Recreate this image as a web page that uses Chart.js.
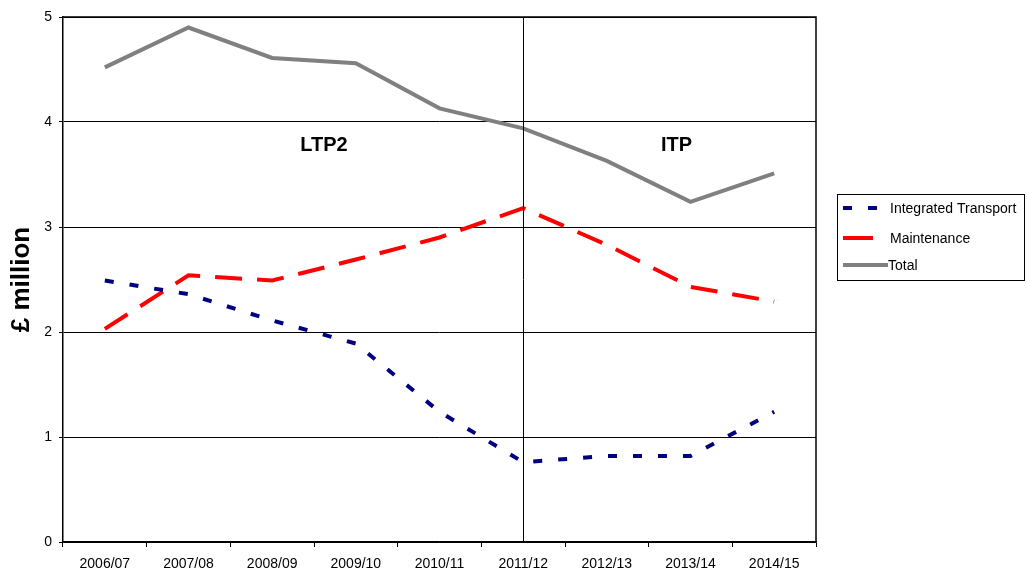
<!DOCTYPE html>
<html><head><meta charset="utf-8">
<script src="https://cdn.jsdelivr.net/npm/chart.js@4"></script>
<style>html,body{margin:0;padding:0;background:#fff}#wrap{width:1027px;height:571px;position:relative}</style>
</head><body><div id="wrap"><canvas id="c" width="1027" height="571"></canvas></div>
<script>
const categories = ["2006/07","2007/08","2008/09","2009/10","2010/11","2011/12","2012/13","2013/14","2014/15"];
const integratedTransport = [2.49,2.36,2.11,1.89,1.24,0.76,0.82,0.82,1.24];
const maintenance = [2.03,2.54,2.49,2.69,2.90,3.18,2.83,2.43,2.29];
const total = [4.52,4.90,4.61,4.56,4.13,3.94,3.63,3.24,3.51];
const yTicks = [0,1,2,3,4,5];
const periodLabels = ["LTP2", "ITP"];
const dividerIndex = 5;

const FONT = "'Liberation Sans', Arial, sans-serif";

const extras = {
  id:'extras',
  afterDatasetsDraw(chart){
    const {ctx, chartArea:a, scales:{x,y}} = chart;
    ctx.save();
    // border box top/right
    ctx.strokeStyle='#000'; ctx.lineWidth=1.5;
    ctx.beginPath();
    ctx.moveTo(a.left, a.top); ctx.lineTo(a.right, a.top); ctx.lineTo(a.right, a.bottom);
    ctx.stroke();
    // vertical divider
    const xd = Math.round(x.getPixelForValue(dividerIndex))+0.5;
    ctx.strokeStyle='#000'; ctx.lineWidth=1;
    ctx.beginPath(); ctx.moveTo(xd, a.top); ctx.lineTo(xd, a.bottom); ctx.stroke();
    // period labels
    ctx.fillStyle='#000'; ctx.font='bold 20px '+FONT; ctx.textAlign='center'; ctx.textBaseline='middle';
    const ly = y.getPixelForValue(3.78);
    ctx.fillText(periodLabels[0], (x.getPixelForValue(2)+x.getPixelForValue(3))/2 + 10, ly);
    ctx.fillText(periodLabels[1], x.getPixelForValue(7) - 14, ly);
    // legend
    const lx=837, ly0=194, lw=187, lh=86;
    ctx.strokeStyle='#000'; ctx.lineWidth=1;
    ctx.strokeRect(lx+0.5, ly0+0.5, lw, lh);
    const items = chart.data.datasets;
    const rows=[208,238,265];
    ctx.font='14px '+FONT; ctx.textAlign='left'; ctx.textBaseline='middle';
    items.forEach((ds,i)=>{
      const ry=rows[i];
      ctx.strokeStyle=ds.borderColor; ctx.lineWidth=ds.borderWidth;
      ctx.setLineDash(i===0?[9,16]:[]);
      ctx.beginPath(); ctx.moveTo(843, ry); ctx.lineTo(i===0?877:(i===2?888:873), ry); ctx.stroke();
      ctx.setLineDash([]);
      ctx.fillStyle='#000';
      ctx.fillText(ds.label, i===2?888:890, ry+1);
    });
    ctx.restore();
  }
};

new Chart(document.getElementById('c'), {
  type:'line',
  data:{
    labels:categories,
    datasets:[
      {label:'Integrated Transport', data:integratedTransport, borderColor:'#000080', borderWidth:4, borderDash:[9,16], pointRadius:0, tension:0, fill:false},
      {label:'Maintenance', data:maintenance, borderColor:'#ff0000', borderWidth:4, borderDash:[27,15], pointRadius:0, tension:0, fill:false},
      {label:'Total', data:total, borderColor:'#808080', borderWidth:4, pointRadius:0, tension:0, fill:false}
    ]
  },
  options:{
    responsive:false, animation:false, devicePixelRatio:1,
    layout:{padding:{top:17, right:211, left:0, bottom:0}},
    plugins:{legend:{display:false}, tooltip:{enabled:false}},
    scales:{
      x:{
        offset:true,
        grid:{offset:true, drawOnChartArea:false, color:'#000', tickLength:5, tickColor:'#000'},
        border:{color:'#000', width:1.5},
        ticks:{color:'#000', font:{family:FONT, size:14}, maxRotation:0, padding:9},
        afterFit(s){ s.height = 29; }
      },
      y:{
        min:0, max:5,
        afterBuildTicks(s){ s.ticks = yTicks.map(v=>({value:v})); },
        grid:{color:'#000', lineWidth:1, tickLength:4, tickColor:'#000'},
        border:{color:'#000', width:1.5},
        ticks:{color:'#000', font:{family:FONT, size:14}, padding:7},
        title:{display:true, text:'£ million', color:'#000', font:{family:FONT, size:26, weight:'bold'}, padding:{top:6,bottom:0}},
        afterFit(s){ s.width = 63; }
      }
    }
  },
  plugins:[extras]
});
</script></body></html>
